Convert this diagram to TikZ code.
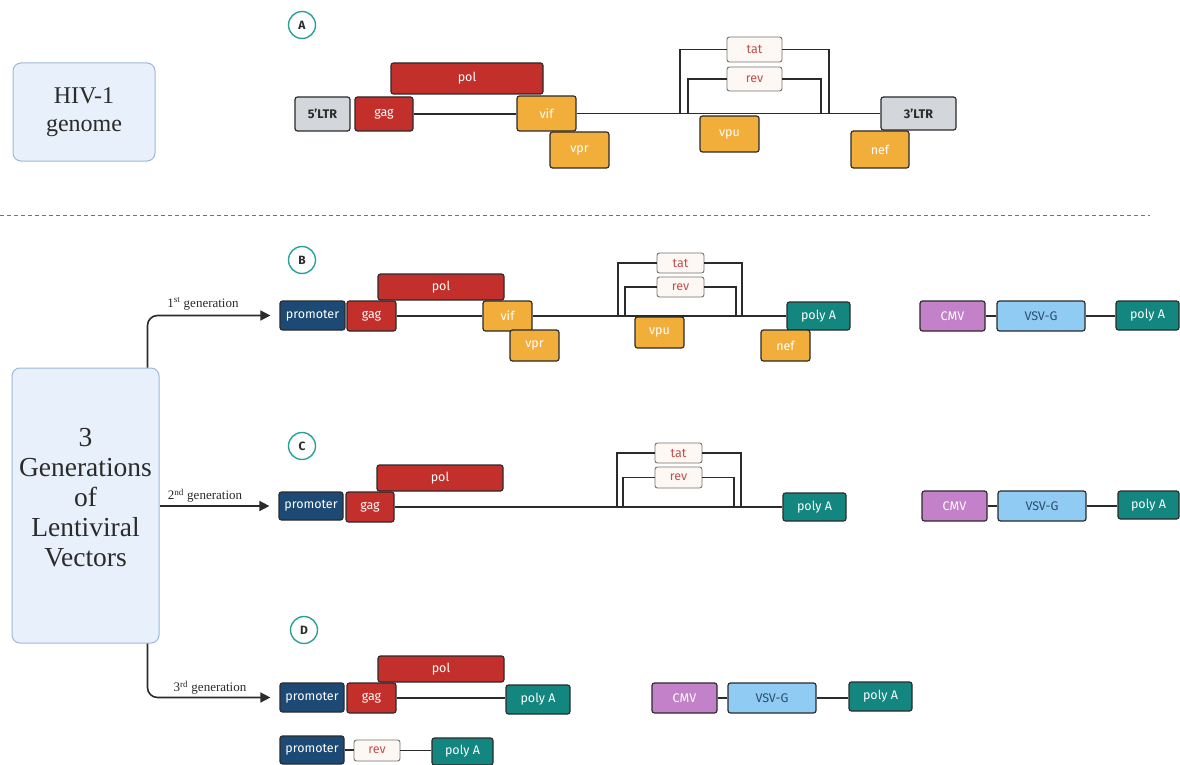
\documentclass[tikz,border=0pt]{standalone}
\usepackage{fontspec}
\setmainfont{Liberation Serif}
\setsansfont{Fira Sans}
\usetikzlibrary{arrows.meta}
\definecolor{redg}{HTML}{C3302B}
\definecolor{orng}{HTML}{F2AE3B}
\definecolor{ltrg}{HTML}{D3D6DB}
\definecolor{promb}{HTML}{1C4A75}
\definecolor{teal2}{HTML}{13877F}
\definecolor{cmvp}{HTML}{C281C8}
\definecolor{vsvb}{HTML}{8FCBF2}
\definecolor{vsvt}{HTML}{2F4C6E}
\definecolor{trf}{HTML}{FDF8F3}
\definecolor{trt}{HTML}{C0504D}
\definecolor{circ}{HTML}{2AA198}
\definecolor{bigf}{HTML}{E8F1FB}
\definecolor{bigd}{HTML}{9CB9D9}
\definecolor{dk}{HTML}{2B2B2B}
\newcommand{\mybox}[7]{%
  \pgfmathsetmacro\mbw{#5-#3}\pgfmathsetmacro\mbh{#6-#4}%
  \pgfmathsetmacro\mbx{(#3+#5)/2}\pgfmathsetmacro\mby{(#4+#6)/2}%
  \node[#2, minimum width=\mbw pt, minimum height=\mbh pt] (#1) at (\mbx,\mby) {#7};}
\begin{document}
\begin{tikzpicture}[x=1pt,y=-1pt,
  gene/.style={draw=dk, rounded corners=2.5pt, line width=1.2pt, inner sep=0pt,
    font=\sffamily\fontsize{12.5}{13}\selectfont, text=white},
  redbox/.style={gene, fill=redg},
  orbox/.style={gene, fill=orng},
  ltrbox/.style={gene, fill=ltrg, text=dk, font=\sffamily\bfseries\fontsize{12.5}{13}\selectfont},
  prombox/.style={gene, fill=promb},
  pabox/.style={gene, fill=teal2},
  cmvbox/.style={gene, fill=cmvp},
  vsvbox/.style={gene, fill=vsvb, text=vsvt},
  trbox/.style={gene, fill=trf, draw=black!55, line width=0.9pt, text=trt},
  letter/.style={circle, draw=circ, line width=1.4pt, fill=white, minimum size=27pt, inner sep=0pt,
    font=\sffamily\bfseries\fontsize{12}{12}\selectfont, text=dk},
  bigbox/.style={draw=bigd, fill=bigf, rounded corners=8pt, line width=1pt, inner sep=0pt, align=center, text=dk},
  bline/.style={draw=dk, line width=1.6pt},
  arr/.style={draw=dk, line width=1.6pt, rounded corners=10pt, -{Triangle[length=10pt,width=10pt]}, shorten >=9pt},
  genlbl/.style={font=\fontsize{13}{14}\selectfont, text=dk, inner sep=0pt}
]
\useasboundingbox (0,0) rectangle (1180,765);
\fill[white] (0,0) rectangle (1180,765);

% ---------- A ----------
\mybox{hiv}{bigbox, font=\fontsize{24}{28}\selectfont}{13}{63}{155}{161}{HIV-1\\genome}
\node[letter] (cA) at (302,25) {A};
\mybox{polA}{redbox}{391}{63}{543}{94}{pol}
\mybox{ltr5}{ltrbox}{295}{97}{350}{131}{5'LTR}
\mybox{gagA}{redbox}{355}{97}{413}{131}{gag}
\mybox{vifA}{orbox}{517}{96}{576}{131}{vif}
\mybox{vprA}{orbox}{550}{132}{609}{168}{vpr}
\mybox{tatA}{trbox}{727}{37}{782}{62}{tat}
\mybox{revA}{trbox}{727}{67}{782}{91}{rev}
\mybox{vpuA}{orbox}{700}{116}{759}{152}{vpu}
\mybox{ltrT}{ltrbox}{881}{97}{956}{130}{3'LTR}
\mybox{nefA}{orbox}{851}{131}{909}{168}{nef}
\draw[bline] (gagA.east) -- (gagA.east -| vifA.west);
\draw[bline] (vifA.east) -- (vifA.east -| ltrT.west);
\coordinate (oAl) at (680,113.5); \coordinate (oAr) at (829,113.5);
\coordinate (iAl) at (688,113.5); \coordinate (iAr) at (821,113.5);
\draw[bline] (tatA.west) -| (oAl);
\draw[bline] (tatA.east) -| (oAr);
\draw[bline] (revA.west) -| (iAl);
\draw[bline] (revA.east) -| (iAr);

% separator
\coordinate (s1) at (0,215); \coordinate (s2) at (1150,215);
\draw[black!55, line width=0.9pt, dash pattern=on 4pt off 3pt] (s1) -- (s2);

% ---------- big box ----------
\mybox{gen}{bigbox}{12}{368}{159}{643}{}
\node[align=center, text=dk, inner sep=0pt, font=\fontsize{27.5}{30}\selectfont] (gentxt) at ([yshift=8pt]gen.center) {3\\Generations\\of\\Lentiviral\\Vectors};

% ---------- B ----------
\node[letter] (cB) at (302,260) {B};
\mybox{polB}{redbox}{378}{274}{504}{300}{pol}
\mybox{promB}{prombox}{280}{301}{345}{330}{promoter}
\mybox{gagB}{redbox}{347}{301}{396}{331}{gag}
\mybox{vifB}{orbox}{483}{301}{532}{331}{vif}
\mybox{vprB}{orbox}{510}{330}{559}{361}{vpr}
\mybox{tatB}{trbox}{657}{253}{704}{273}{tat}
\mybox{revB}{trbox}{657}{277}{704}{297}{rev}
\mybox{vpuB}{orbox}{635}{317}{684}{348}{vpu}
\mybox{paB}{pabox}{787}{302}{850}{330}{poly A}
\mybox{nefB}{orbox}{761}{330}{810}{361}{nef}
\mybox{cmvB}{cmvbox}{920}{301}{985}{331}{CMV}
\mybox{vsvB}{vsvbox}{997}{301}{1085}{331}{VSV-G}
\mybox{paBb}{pabox}{1116}{301}{1179}{330}{poly A}
\draw[bline] (gagB.east) -- (gagB.east -| vifB.west);
\draw[bline] (vifB.east) -- (vifB.east -| paB.west);
\coordinate (oBl) at (618,316); \coordinate (oBr) at (742,316);
\coordinate (iBl) at (625,316); \coordinate (iBr) at (736,316);
\draw[bline] (tatB.west) -| (oBl);
\draw[bline] (tatB.east) -| (oBr);
\draw[bline] (revB.west) -| (iBl);
\draw[bline] (revB.east) -| (iBr);
\draw[bline] (cmvB.east) -- (cmvB.east -| vsvB.west);
\draw[bline] (vsvB.east) -- (vsvB.east -| paBb.west);

% ---------- C ----------
\node[letter] (cC) at (302,446) {C};
\mybox{polC}{redbox}{377}{465}{503}{491}{pol}
\mybox{promC}{prombox}{279}{492}{343}{520}{promoter}
\mybox{gagC}{redbox}{346}{492}{394}{522}{gag}
\mybox{tatC}{trbox}{655}{443}{702}{463}{tat}
\mybox{revC}{trbox}{655}{467}{702}{488}{rev}
\mybox{paC}{pabox}{783}{493}{846}{521}{poly A}
\mybox{cmvC}{cmvbox}{922}{491}{987}{521}{CMV}
\mybox{vsvC}{vsvbox}{998}{491}{1086}{521}{VSV-G}
\mybox{paCb}{pabox}{1118}{491}{1179}{519}{poly A}
\draw[bline] (gagC.east) -- (gagC.east -| paC.west);
\coordinate (oCl) at (617,507); \coordinate (oCr) at (741,507);
\coordinate (iCl) at (623,507); \coordinate (iCr) at (734,507);
\draw[bline] (tatC.west) -| (oCl);
\draw[bline] (tatC.east) -| (oCr);
\draw[bline] (revC.west) -| (iCl);
\draw[bline] (revC.east) -| (iCr);
\draw[bline] (cmvC.east) -- (cmvC.east -| vsvC.west);
\draw[bline] (vsvC.east) -- (vsvC.east -| paCb.west);

% ---------- D ----------
\node[letter] (cD) at (304,630) {D};
\mybox{polD}{redbox}{378}{656}{504}{682}{pol}
\mybox{promD}{prombox}{280}{683}{344}{712}{promoter}
\mybox{gagD}{redbox}{347}{683}{396}{713}{gag}
\mybox{paD}{pabox}{506}{685}{570}{714}{poly A}
\mybox{cmvD}{cmvbox}{652}{683}{717}{713}{CMV}
\mybox{vsvD}{vsvbox}{728}{683}{816}{713}{VSV-G}
\mybox{paDb}{pabox}{849}{682}{912}{711}{poly A}
\mybox{promDb}{prombox}{280}{736}{344}{764}{promoter}
\mybox{revD}{trbox}{354}{740}{400}{761}{rev}
\mybox{paDc}{pabox}{432}{738}{493}{765}{poly A}
\draw[bline] (gagD.east) -- (gagD.east -| paD.west);
\draw[bline] (cmvD.east) -- (cmvD.east -| vsvD.west);
\draw[bline] (vsvD.east) -- (vsvD.east -| paDb.west);
\draw[bline] (promDb.east) -- (promDb.east -| revD.west);
\draw[bline] (revD.east) -- (revD.east -| paDc.west);

% ---------- arrows ----------
\draw[arr] ([xshift=-12pt]gen.north east) |- (promB.west);
\draw[arr] (gen.east |- promC.west) -- (promC.west);
\draw[arr] ([xshift=-12pt]gen.south east) |- (promD.west);
\node[genlbl] (l1) at (203,304) {1\textsuperscript{st} generation};
\node[genlbl] (l2) at (205,496) {2\textsuperscript{nd} generation};
\node[genlbl] (l3) at (210,688) {3\textsuperscript{rd} generation};
\end{tikzpicture}
\end{document}
